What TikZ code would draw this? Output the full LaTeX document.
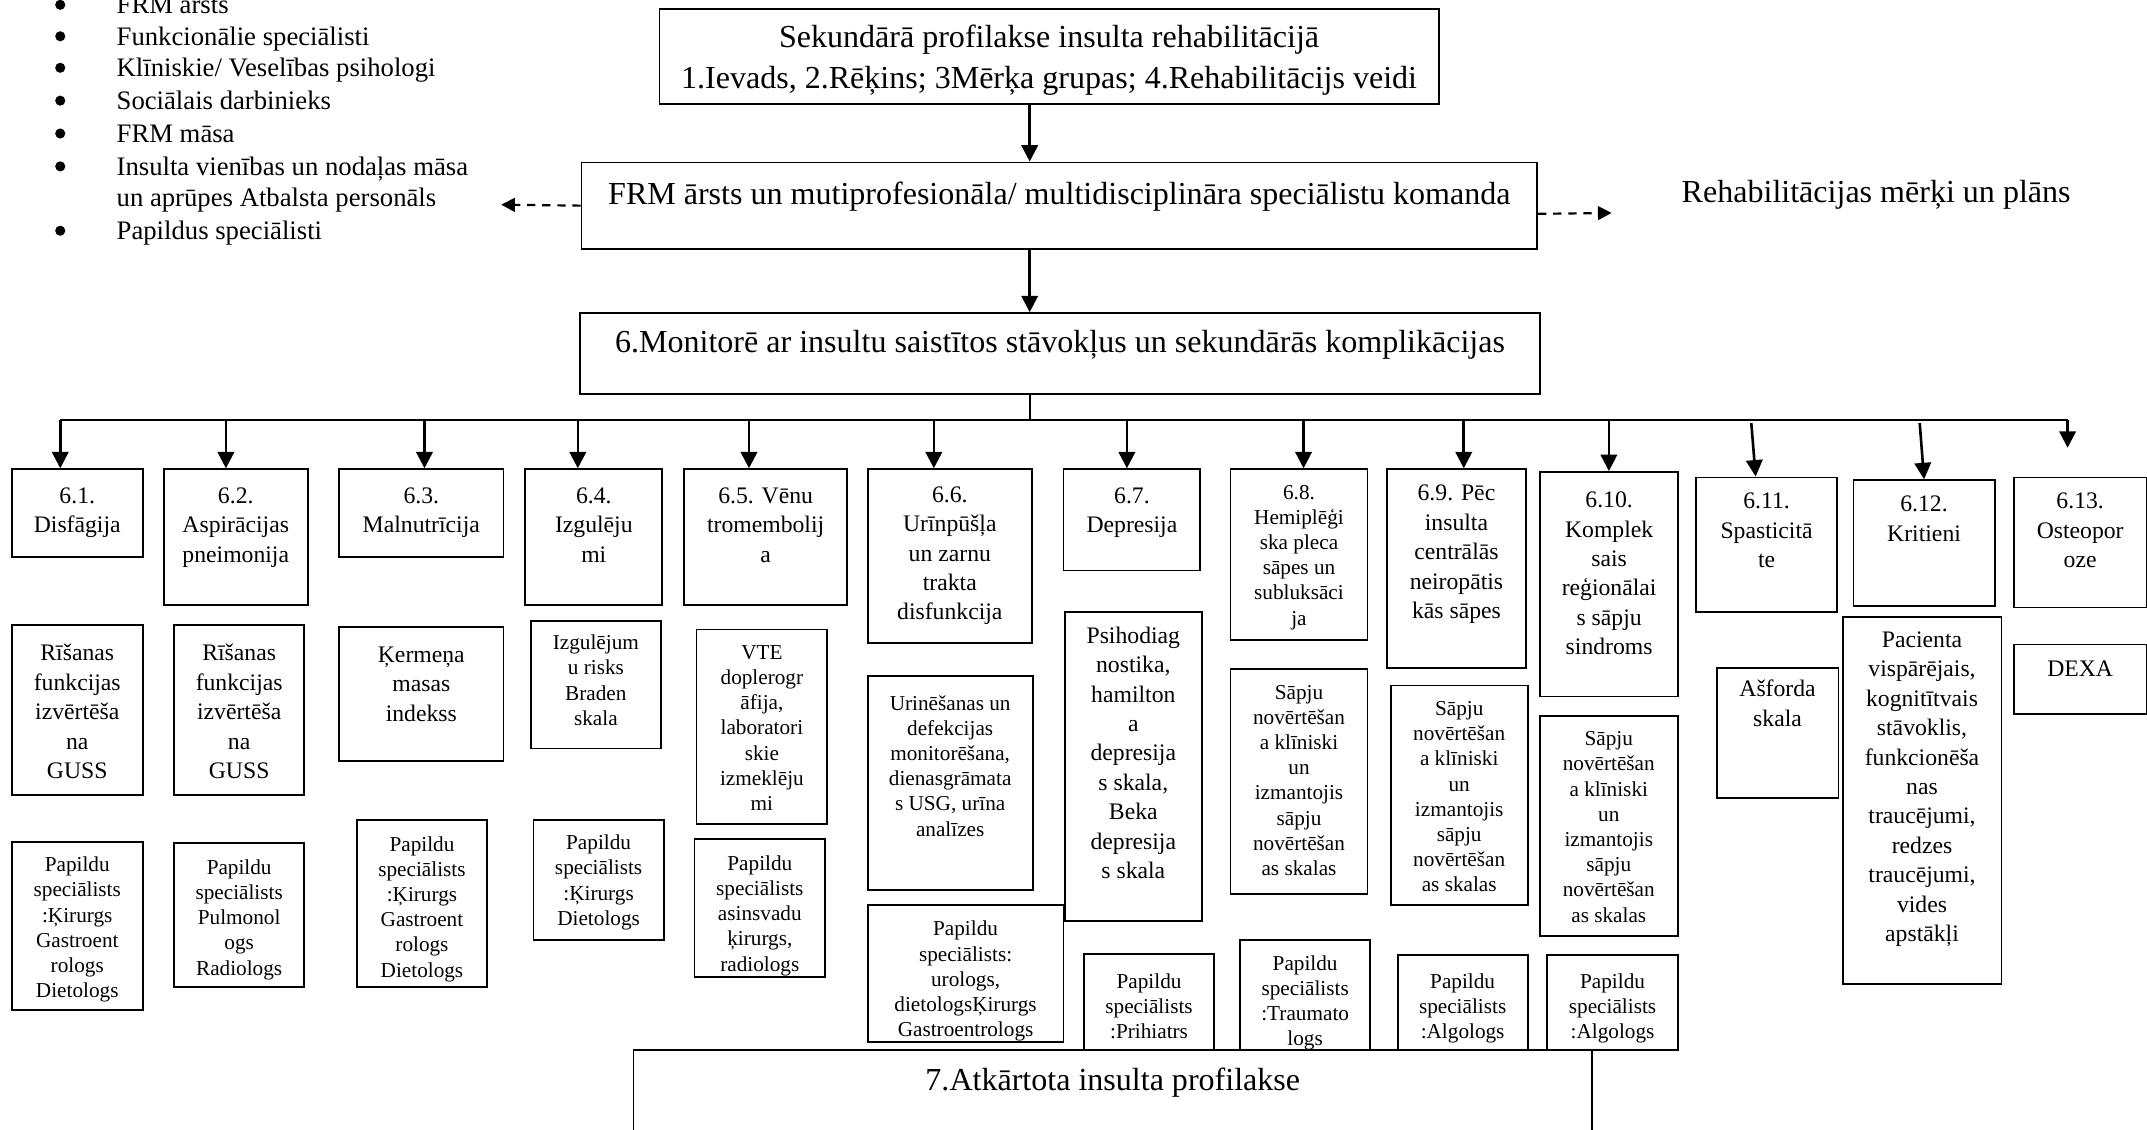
\documentclass[tikz,border=0pt]{standalone}
\usepackage{fontspec}
\setmainfont{Liberation Serif}
\usepackage{tikz}
\usetikzlibrary{arrows.meta}

\newcommand{\bigtxt}{\fontsize{23.4}{30}\selectfont}
\newcommand{\midtxt}{\fontsize{17.3}{21.5}\selectfont}
\newcommand{\smalltxt}{\fontsize{15.5}{18.4}\selectfont}
\newcommand{\listtxt}{\fontsize{19.5}{23.5}\selectfont}
% box content: width, height, top gap, text
\newcommand{\cellbox}[4]{\parbox[t][#2pt][t]{#1pt}{\centering\vspace*{#3pt}\strut#4\par}}

\begin{document}
\begin{tikzpicture}[x=1pt, y=-1pt,
  box/.style={draw, line width=1.35pt, inner sep=0pt, anchor=north west},
  arr/.style={-{Triangle[width=12pt,length=12pt]}, line width=1.9pt},
  dasharr/.style={-{Triangle[width=10pt,length=10pt]}, line width=1.6pt, dash pattern=on 6pt off 5pt},
  listitem/.style={anchor=base west, inner sep=0pt, font=\listtxt}]
\useasboundingbox (0,0) rectangle (1568,825);

% Team list
\foreach \y in {3.5,26.5,49.5,73.5,97.5,121.5,168.5}
  \fill (44,\y) circle (3.7);
\node[listitem] (m1) at (85,10) {FRM ārsts};
\node[listitem] (m2) at (85,33) {Funkcionālie speciālisti};
\node[listitem] (m3) at (85,56) {Klīniskie/ Veselības psihologi};
\node[listitem] (m4) at (85,80) {Sociālais darbinieks};
\node[listitem] (m5) at (85,104) {FRM māsa};
\node[listitem] (m6) at (85,128) {Insulta vienības un nodaļas māsa};
\node[listitem] (m7) at (85,151) {un aprūpes Atbalsta personāls};
\node[listitem] (m8) at (85,175) {Papildus speciālisti};

% Main boxes
\node[box, font=\bigtxt] (top) at (481,6) {\cellbox{569}{69}{7}{Sekundārā profilakse insulta rehabilitācijā\\1.Ievads, 2.Rēķins; 3Mērķa grupas; 4.Rehabilitācijs veidi}};
\node[box, font=\bigtxt] (frm) at (424,118) {\cellbox{698}{63}{10}{FRM ārsts un mutiprofesionāla/ multidisciplināra speciālistu komanda}};
\node[box, font=\bigtxt] (mon) at (423,228) {\cellbox{701}{59}{8}{6.Monitorē ar insultu saistītos stāvokļus un sekundārās komplikācijas}};
\node[anchor=base west, inner sep=0pt, font=\bigtxt] (goals) at (1228,148) {Rehabilitācijas mērķi un plāns};

% Complications
\node[box, font=\midtxt] (b1) at (8,342) {\cellbox{95.5}{64}{10}{6.1.\\Disfāgija}};
\node[box, font=\midtxt] (b2) at (119,342) {\cellbox{105}{99}{10}{6.2.\\Aspirācijas\\pneimonija}};
\node[box, font=\midtxt] (b3) at (247,342) {\cellbox{120}{64}{10}{6.3.\\Malnutrīcija}};
\node[box, font=\midtxt] (b4) at (383,342) {\cellbox{100}{99}{10}{6.4.\\Izgulēju\\mi}};
\node[box, font=\midtxt] (b5) at (499,342) {\cellbox{119}{99}{10}{6.5. Vēnu\\tromembolij\\a}};
\node[box, font=\midtxt] (b6) at (633,342) {\cellbox{120}{127}{9}{6.6.\\Urīnpūšļa\\un zarnu\\trakta\\disfunkcija}};
\node[box, font=\midtxt] (b7) at (776,342) {\cellbox{100}{74}{10}{6.7.\\Depresija}};
\node[box, font=\smalltxt] (b8) at (898,342) {\cellbox{100}{125}{9}{6.8.\\Hemiplēģi\\ska pleca\\sāpes un\\subluksāci\\ja}};
\node[box, font=\midtxt] (b9) at (1012,342) {\cellbox{102}{145}{8}{6.9. Pēc\\insulta\\centrālās\\neiropātis\\kās sāpes}};
\node[box, font=\midtxt] (b10) at (1124,344) {\cellbox{101}{164}{11}{6.10.\\Komplek\\sais\\reģionālai\\s sāpju\\sindroms}};
\node[box, font=\midtxt] (b11) at (1238,348) {\cellbox{103}{98}{8}{6.11.\\Spasticitā\\te}};
\node[box, font=\midtxt] (b12) at (1353,350) {\cellbox{103}{92}{8}{6.12.\\Kritieni}};
\node[box, font=\midtxt] (b13) at (1470,348) {\cellbox{97}{95}{8}{6.13.\\Osteopor\\oze}};

% Assessment
\node[box, font=\midtxt] (c1) at (8,456) {\cellbox{95.5}{124}{11}{Rīšanas\\funkcijas\\izvērtēša\\na\\GUSS}};
\node[box, font=\midtxt] (c2) at (126.5,456) {\cellbox{95}{124}{11}{Rīšanas\\funkcijas\\izvērtēša\\na\\GUSS}};
\node[box, font=\midtxt] (c3) at (247,457) {\cellbox{120}{98}{11}{Ķermeņa\\masas\\indekss}};
\node[box, font=\smalltxt] (c4) at (387,453) {\cellbox{95}{93}{8}{Izgulējum\\u risks\\Braden\\skala}};
\node[box, font=\smalltxt] (c5) at (508,459) {\cellbox{95.5}{142}{9}{VTE\\doplerogr\\āfija,\\laboratori\\skie\\izmeklēju\\mi}};
\node[box, font=\smalltxt] (c6) at (633,493) {\cellbox{120.5}{156}{12}{Urinēšanas un\\defekcijas\\monitorēšana,\\dienasgrāmata\\s USG, urīna\\analīzes}};
\node[box, font=\midtxt] (c7) at (777,446) {\cellbox{100}{226}{8}{Psihodiag\\nostika,\\hamilton\\a\\depresija\\s skala,\\Beka\\depresija\\s skala}};
\node[box, font=\smalltxt] (c8) at (898,488) {\cellbox{100}{164}{9}{Sāpju\\novērtēšan\\a klīniski\\un\\izmantojis\\sāpju\\novērtēšan\\as skalas}};
\node[box, font=\smalltxt] (c9) at (1015,500) {\cellbox{100}{160}{9}{Sāpju\\novērtēšan\\a klīniski\\un\\izmantojis\\sāpju\\novērtēšan\\as skalas}};
\node[box, font=\smalltxt] (c10) at (1124,522) {\cellbox{100.5}{161}{9}{Sāpju\\novērtēšan\\a klīniski\\un\\izmantojis\\sāpju\\novērtēšan\\as skalas}};
\node[box, font=\midtxt] (c11) at (1253,487) {\cellbox{89}{95}{6}{Ašforda\\skala}};
\node[box, font=\midtxt] (c12) at (1345,450) {\cellbox{116}{268}{7}{Pacienta\\vispārējais,\\kognitītvais\\stāvoklis,\\funkcionēša\\nas\\traucējumi,\\redzes\\traucējumi,\\vides\\apstākļi}};
\node[box, font=\midtxt] (c13) at (1470,470) {\cellbox{97}{51}{8}{DEXA}};

% Specialists
\node[box, font=\smalltxt] (p1) at (8,614) {\cellbox{95.5}{123}{9}{Papildu\\speciālists\\:Ķirurgs\\Gastroent\\rologs\\Dietologs}};
\node[box, font=\smalltxt] (p2) at (126.5,615) {\cellbox{95}{105}{10}{Papildu\\speciālists\\Pulmonol\\ogs\\Radiologs}};
\node[box, font=\smalltxt] (p3) at (260,598) {\cellbox{95}{122}{10}{Papildu\\speciālists\\:Ķirurgs\\Gastroent\\rologs\\Dietologs}};
\node[box, font=\smalltxt] (p4) at (389,598) {\cellbox{95}{88}{9}{Papildu\\speciālists\\:Ķirurgs\\Dietologs}};
\node[box, font=\smalltxt] (p5) at (506.5,612) {\cellbox{95.5}{101}{10}{Papildu\\speciālists\\asinsvadu\\ķirurgs,\\radiologs}};
\node[box, font=\smalltxt] (p6) at (633,660) {\cellbox{143}{100}{10}{Papildu\\speciālists:\\urologs,\\dietologsĶirurgs\\Gastroentrologs}};
\node[box, font=\smalltxt] (p7) at (791,696) {\cellbox{95}{70}{12}{Papildu\\speciālists\\:Prihiatrs}};
\node[box, font=\smalltxt] (p8) at (905,686) {\cellbox{95}{80}{9}{Papildu\\speciālists\\:Traumato\\logs}};
\node[box, font=\smalltxt] (p9) at (1020,697) {\cellbox{95}{69}{11}{Papildu\\speciālists\\:Algologs}};
\node[box, font=\smalltxt] (p10) at (1129,697) {\cellbox{96}{69}{11}{Papildu\\speciālists\\:Algologs}};

% Prevention
\node[box, font=\bigtxt] (prof) at (462,766) {\cellbox{700}{80}{9}{7.Atkārtota insulta profilakse}};

% Arrows
\coordinate (spine) at (752,0);
\draw[arr] (top.south -| spine) -- (frm.north -| spine);
\draw[arr] (frm.south -| spine) -- (mon.north -| spine);
\coordinate (teamtip) at (366,149.5);
\coordinate (goaltip) at (1177,155.5);
\draw[dasharr] (frm.west) -- (teamtip);
\draw[dasharr] ([yshift=-6pt]frm.east) -- (goaltip);

% Branches
\draw[line width=1.3pt] (mon.south -| spine) -- (752,307);
\draw[line width=1.6pt] (44,307) -- (1510,307);
\foreach \x/\n in {44/b1,165/b2,310/b3,422/b4,547/b5,682/b6,823/b7,952/b8,1069/b9,1175/b10}{
  \coordinate (c) at (\x,307);
  \draw[arr] (c) -- (c |- \n.north);
}
\coordinate (s11) at (1279,309);
\coordinate (s12) at (1402,309);
\coordinate (s13) at (1510,307);
\coordinate (e13) at (1510,327);
\draw[arr] (s11) -- ([xshift=-8pt]b11.north);
\draw[arr] (s12) -- (b12.north);
\draw[arr] (s13) -- (e13);
\end{tikzpicture}
\end{document}
